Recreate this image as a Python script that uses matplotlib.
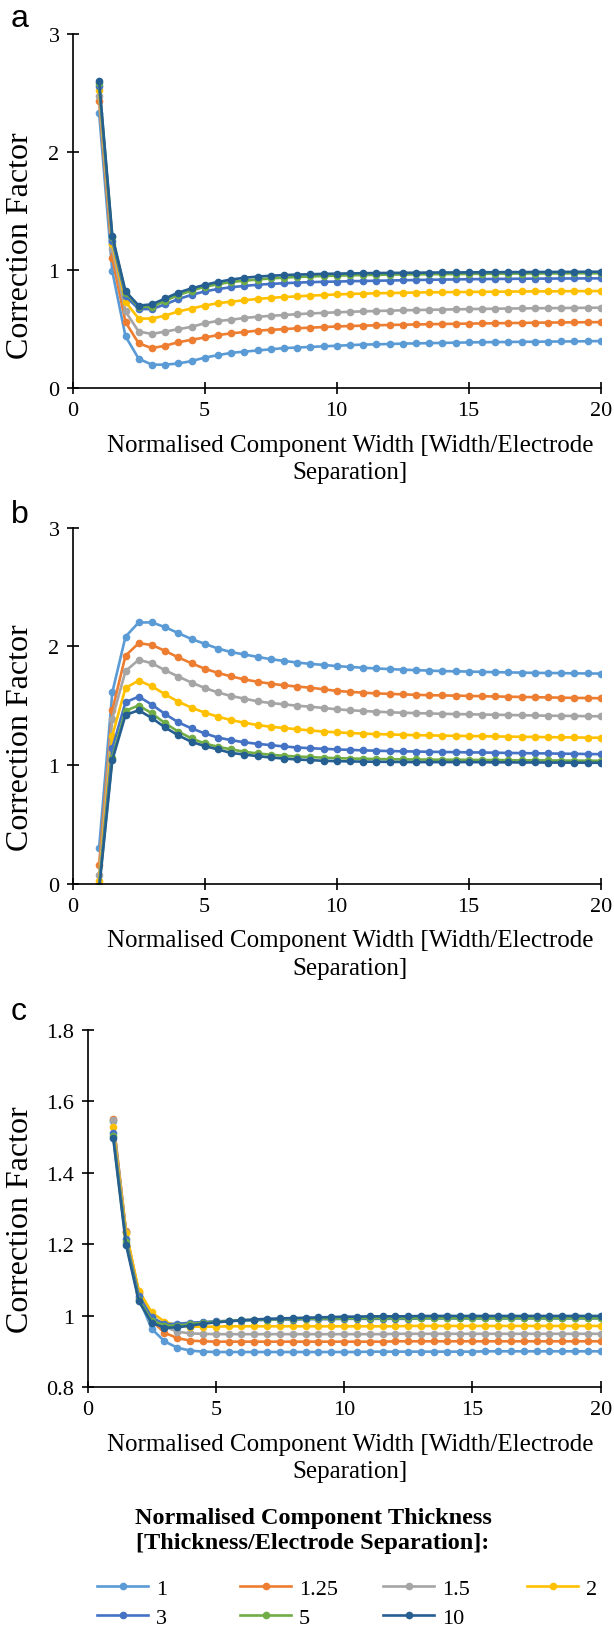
import matplotlib
matplotlib.use("Agg")
import matplotlib.pyplot as plt
from matplotlib.lines import Line2D

plt.rcParams['font.family'] = ['Liberation Serif', 'DejaVu Serif']

# ---- data --------------------------------------------------------------
width = [1, 1.5, 2, 2.5, 3, 3.5, 4, 4.5, 5, 5.5, 6, 6.5, 7, 7.5, 8, 8.5, 9, 9.5, 10,
         10.5, 11, 11.5, 12, 12.5, 13, 13.5, 14, 14.5, 15, 15.5, 16, 16.5, 17, 17.5,
         18, 18.5, 19, 19.5, 20]

thickness_labels = ['1', '1.25', '1.5', '2', '3', '5', '10']
colors = ['#5B9BD5', '#ED7D31', '#A5A5A5', '#FFC000', '#4472C4', '#70AD47', '#255E91']

# panel a
a_t1 = [2.33, 0.99, 0.44, 0.25, 0.20, 0.20, 0.21, 0.23, 0.26, 0.28, 0.30, 0.31, 0.32,
        0.33, 0.34, 0.345, 0.35, 0.355, 0.36, 0.365, 0.37, 0.372, 0.375, 0.378, 0.38,
        0.382, 0.384, 0.386, 0.388, 0.39, 0.391, 0.392, 0.393, 0.394, 0.395, 0.396,
        0.397, 0.398, 0.40]
a_t125 = [2.43, 1.10, 0.56, 0.38, 0.34, 0.36, 0.39, 0.41, 0.43, 0.45, 0.465, 0.476,
          0.488, 0.495, 0.50, 0.508, 0.513, 0.518, 0.523, 0.527, 0.53, 0.533, 0.536,
          0.538, 0.54, 0.542, 0.544, 0.546, 0.547, 0.549, 0.55, 0.552, 0.553, 0.555,
          0.556, 0.557, 0.558, 0.559, 0.56]
a_t15 = [2.47, 1.18, 0.65, 0.48, 0.46, 0.48, 0.50, 0.52, 0.55, 0.57, 0.58, 0.595,
         0.605, 0.613, 0.62, 0.627, 0.633, 0.638, 0.643, 0.647, 0.651, 0.654, 0.657,
         0.66, 0.662, 0.664, 0.666, 0.668, 0.67, 0.672, 0.673, 0.675, 0.676, 0.677,
         0.678, 0.679, 0.68, 0.681, 0.682]
a_t2 = [2.52, 1.22, 0.73, 0.59, 0.59, 0.615, 0.65, 0.675, 0.70, 0.72, 0.733, 0.745,
        0.756, 0.765, 0.772, 0.778, 0.784, 0.789, 0.794, 0.798, 0.801, 0.804, 0.806,
        0.808, 0.81, 0.812, 0.813, 0.814, 0.815, 0.816, 0.817, 0.818, 0.819, 0.82,
        0.82, 0.821, 0.822, 0.822, 0.823]
a_t3 = [2.56, 1.25, 0.78, 0.67, 0.67, 0.71, 0.755, 0.79, 0.82, 0.84, 0.855, 0.866,
        0.876, 0.883, 0.889, 0.894, 0.898, 0.901, 0.903, 0.906, 0.908, 0.91, 0.912,
        0.914, 0.916, 0.918, 0.92, 0.921, 0.923, 0.924, 0.925, 0.926, 0.927, 0.928,
        0.928, 0.929, 0.929, 0.93, 0.93]
a_t5 = [2.58, 1.28, 0.81, 0.69, 0.69, 0.74, 0.79, 0.825, 0.86, 0.88, 0.90, 0.91, 0.92,
        0.93, 0.936, 0.942, 0.946, 0.95, 0.953, 0.956, 0.958, 0.96, 0.962, 0.963,
        0.964, 0.965, 0.966, 0.967, 0.968, 0.969, 0.97, 0.97, 0.971, 0.971, 0.972,
        0.972, 0.973, 0.973, 0.973]
a_t10 = [2.60, 1.29, 0.82, 0.70, 0.71, 0.76, 0.81, 0.845, 0.875, 0.90, 0.92, 0.935,
         0.945, 0.952, 0.958, 0.962, 0.965, 0.968, 0.97, 0.972, 0.974, 0.975, 0.976,
         0.977, 0.978, 0.979, 0.98, 0.98, 0.981, 0.982, 0.982, 0.983, 0.983, 0.984,
         0.984, 0.985, 0.985, 0.986, 0.986]

# panel b
b_t1 = [0.30, 1.61, 2.08, 2.20, 2.20, 2.16, 2.11, 2.06, 2.02, 1.98, 1.95, 1.93, 1.91,
        1.89, 1.876, 1.862, 1.851, 1.842, 1.832, 1.825, 1.818, 1.812, 1.807, 1.802,
        1.798, 1.794, 1.79, 1.788, 1.786, 1.783, 1.781, 1.779, 1.777, 1.775, 1.774,
        1.773, 1.771, 1.77, 1.769]
b_t125 = [0.16, 1.46, 1.92, 2.025, 2.01, 1.96, 1.905, 1.856, 1.81, 1.775, 1.745, 1.72,
          1.70, 1.684, 1.67, 1.66, 1.65, 1.637, 1.623, 1.615, 1.608, 1.602, 1.598,
          1.594, 1.59, 1.587, 1.585, 1.583, 1.581, 1.578, 1.576, 1.574, 1.572, 1.57,
          1.568, 1.566, 1.564, 1.563, 1.561]
b_t15 = [0.07, 1.39, 1.79, 1.885, 1.856, 1.797, 1.744, 1.693, 1.648, 1.61, 1.58, 1.558,
         1.535, 1.521, 1.51, 1.498, 1.49, 1.479, 1.468, 1.46, 1.454, 1.448, 1.443,
         1.439, 1.436, 1.433, 1.43, 1.428, 1.426, 1.424, 1.422, 1.42, 1.418, 1.416,
         1.414, 1.413, 1.412, 1.41, 1.409]
b_t2 = [0.02, 1.245, 1.648, 1.71, 1.662, 1.594, 1.532, 1.482, 1.44, 1.406, 1.377,
        1.355, 1.335, 1.321, 1.31, 1.30, 1.29, 1.28, 1.274, 1.268, 1.263, 1.259, 1.256,
        1.253, 1.25, 1.248, 1.246, 1.244, 1.243, 1.241, 1.239, 1.238, 1.236, 1.235,
        1.233, 1.232, 1.231, 1.229, 1.228]
b_t3 = [-0.02, 1.14, 1.527, 1.575, 1.507, 1.428, 1.358, 1.307, 1.265, 1.23, 1.208,
        1.19, 1.177, 1.166, 1.155, 1.146, 1.14, 1.135, 1.13, 1.126, 1.122, 1.119,
        1.116, 1.114, 1.112, 1.11, 1.108, 1.107, 1.105, 1.104, 1.102, 1.1, 1.099,
        1.097, 1.096, 1.094, 1.093, 1.091, 1.09]
b_t5 = [-0.03, 1.06, 1.456, 1.50, 1.434, 1.35, 1.28, 1.223, 1.18, 1.152, 1.13, 1.11,
        1.096, 1.085, 1.076, 1.07, 1.065, 1.06, 1.056, 1.053, 1.051, 1.049, 1.047,
        1.046, 1.045, 1.044, 1.043, 1.043, 1.042, 1.041, 1.04, 1.039, 1.038, 1.038,
        1.037, 1.036, 1.035, 1.035, 1.034]
b_t10 = [-0.05, 1.04, 1.42, 1.46, 1.394, 1.315, 1.248, 1.194, 1.158, 1.13, 1.10,
         1.087, 1.073, 1.062, 1.053, 1.045, 1.04, 1.034, 1.031, 1.029, 1.027, 1.026,
         1.025, 1.024, 1.023, 1.023, 1.023, 1.023, 1.023, 1.022, 1.021, 1.021, 1.02,
         1.02, 1.019, 1.019, 1.018, 1.018, 1.017]

# panel c
c_t1 = [1.545, 1.235, 1.05, 0.963, 0.928, 0.91, 0.902, 0.899, 0.898, 0.898, 0.898,
        0.898, 0.898, 0.898, 0.898, 0.898, 0.898, 0.898, 0.898, 0.898, 0.899, 0.899,
        0.899, 0.899, 0.899, 0.899, 0.899, 0.899, 0.899, 0.9, 0.9, 0.9, 0.9, 0.9, 0.9,
        0.9, 0.9, 0.9, 0.9]
c_t125 = [1.551, 1.237, 1.062, 0.986, 0.952, 0.937, 0.93, 0.928, 0.927, 0.927, 0.927,
          0.927, 0.927, 0.927, 0.927, 0.927, 0.927, 0.927, 0.927, 0.927, 0.927, 0.927,
          0.928, 0.928, 0.928, 0.928, 0.928, 0.928, 0.928, 0.928, 0.928, 0.928, 0.928,
          0.928, 0.928, 0.928, 0.928, 0.928, 0.928]
c_t15 = [1.547, 1.233, 1.065, 0.995, 0.969, 0.955, 0.95, 0.949, 0.948, 0.948, 0.948,
         0.948, 0.948, 0.948, 0.948, 0.948, 0.948, 0.948, 0.948, 0.948, 0.948, 0.948,
         0.949, 0.949, 0.949, 0.949, 0.949, 0.949, 0.949, 0.949, 0.949, 0.949, 0.949,
         0.949, 0.949, 0.949, 0.949, 0.949, 0.949]
c_t2 = [1.528, 1.232, 1.07, 1.009, 0.983, 0.972, 0.969, 0.969, 0.969, 0.97, 0.97, 0.97,
        0.97, 0.97, 0.97, 0.97, 0.97, 0.97, 0.97, 0.97, 0.97, 0.97, 0.97, 0.971, 0.971,
        0.971, 0.971, 0.971, 0.971, 0.971, 0.971, 0.971, 0.971, 0.971, 0.971, 0.971,
        0.971, 0.971, 0.971]
c_t3 = [1.512, 1.215, 1.055, 0.995, 0.976, 0.977, 0.98, 0.982, 0.984, 0.985, 0.986,
        0.987, 0.988, 0.989, 0.989, 0.99, 0.99, 0.99, 0.991, 0.991, 0.991, 0.991, 0.991,
        0.991, 0.992, 0.992, 0.992, 0.992, 0.992, 0.992, 0.992, 0.992, 0.992, 0.992,
        0.992, 0.992, 0.992, 0.992, 0.992]
c_t5 = [1.504, 1.205, 1.045, 0.986, 0.972, 0.972, 0.976, 0.98, 0.983, 0.985, 0.987,
        0.988, 0.989, 0.99, 0.991, 0.991, 0.992, 0.992, 0.992, 0.993, 0.993, 0.993,
        0.993, 0.993, 0.993, 0.993, 0.993, 0.993, 0.993, 0.993, 0.993, 0.993, 0.993,
        0.993, 0.993, 0.993, 0.993, 0.993, 0.993]
c_t10 = [1.498, 1.199, 1.04, 0.98, 0.966, 0.967, 0.972, 0.977, 0.981, 0.984, 0.987,
         0.989, 0.991, 0.992, 0.993, 0.994, 0.995, 0.996, 0.997, 0.997, 0.998, 0.998,
         0.998, 0.998, 0.999, 0.999, 0.999, 0.999, 0.999, 0.999, 0.999, 0.999, 0.999,
         0.999, 0.999, 0.999, 0.999, 0.999, 0.999]

panel_a = [a_t1, a_t125, a_t15, a_t2, a_t3, a_t5, a_t10]
panel_b = [b_t1, b_t125, b_t15, b_t2, b_t3, b_t5, b_t10]
panel_c = [c_t1, c_t125, c_t15, c_t2, c_t3, c_t5, c_t10]

a_yticks = [0, 1, 2, 3]
c_yticks = [0.8, 1.0, 1.2, 1.4, 1.6, 1.8]
c_yticklabels = ['0.8', '1', '1.2', '1.4', '1.6', '1.8']
xticks = [0, 5, 10, 15, 20]

xlabel = 'Normalised Component Width [Width/Electrode\nSeparation]'
ylabel = 'Correction Factor'
legend_title = 'Normalised Component Thickness\n[Thickness/Electrode Separation]:'

# ---- figure ------------------------------------------------------------
W, H = 614, 1633
fig = plt.figure(figsize=(W / 100, H / 100), dpi=100)


def px_axes(left, top, right, bottom):
    return fig.add_axes([left / W, 1 - bottom / H, (right - left) / W, (bottom - top) / H])


ax_a = px_axes(72.7, 34.7, 600.7, 389.3)
ax_b = px_axes(72.7, 528.5, 600.7, 884.5)
ax_c = px_axes(87.5, 1031, 600.7, 1388)

TICK_FS = 16
LABEL_FS = 18


def style(ax, data, ylim, yticks, yticklabels=None):
    for vals, col, lab in zip(data, colors, thickness_labels):
        ax.plot(width, vals, color=col, lw=1.9, marker='o', ms=4.5, label=lab)
    ax.set_xlim(0, 20)
    ax.set_ylim(*ylim)
    ax.set_xticks(xticks)
    ax.set_yticks(yticks)
    if yticklabels is not None:
        ax.set_yticklabels(yticklabels)
    for s in ['top', 'right']:
        ax.spines[s].set_visible(False)
    for s in ['left', 'bottom']:
        ax.spines[s].set_linewidth(1.2)
        ax.spines[s].set_color('black')
    ax.tick_params(direction='inout', length=9, width=1.2, labelsize=TICK_FS, colors='black')
    ax.tick_params(axis='y', pad=5)
    ax.tick_params(axis='x', pad=5)


style(ax_a, panel_a, (0, 3), a_yticks)
style(ax_b, panel_b, (0, 3), a_yticks)
style(ax_c, panel_c, (0.8, 1.8), c_yticks, c_yticklabels)

# x labels
for ax, left, right, axh in [(ax_a, 72.7, 600.7, 354.6), (ax_b, 72.7, 600.7, 356),
                             (ax_c, 87.5, 600.7, 357)]:
    ax.set_xlabel(xlabel, fontsize=LABEL_FS, linespacing=1.3, ha='center', va='top')
    ax.xaxis.set_label_coords((350 - left) / (right - left), -46 / axh)

# y labels
for yc in [246, 738, 1220]:
    fig.text(21 / W, 1 - yc / H, ylabel, rotation=90, fontsize=23,
             ha='center', va='center')

# panel letters
for letter, base in [('a', 27), ('b', 523), ('c', 1020)]:
    fig.text(11 / W, 1 - base / H, letter, fontsize=23, family='Liberation Sans',
             ha='left', va='baseline')

# legend
fig.text(313 / W, 1 - 1531 / H, legend_title, fontsize=17.5, fontweight='bold',
         ha='center', va='center', linespacing=1.3)

columns = [[0, 4], [1, 5], [2, 6], [3]]
col_x = [97, 240, 383, 527]
for idx, cx in zip(columns, col_x):
    hs = [Line2D([], [], color=colors[i], lw=1.9, marker='o', ms=4.5) for i in idx]
    labs = [thickness_labels[i] for i in idx]
    fig.legend(hs, labs, loc='upper left', bbox_to_anchor=(cx / W, 1 - 1579 / H),
               frameon=False, fontsize=TICK_FS, handlelength=2.3, handletextpad=0.35,
               borderpad=0, borderaxespad=0, labelspacing=0.4)

fig.savefig('out.png', dpi=100)
